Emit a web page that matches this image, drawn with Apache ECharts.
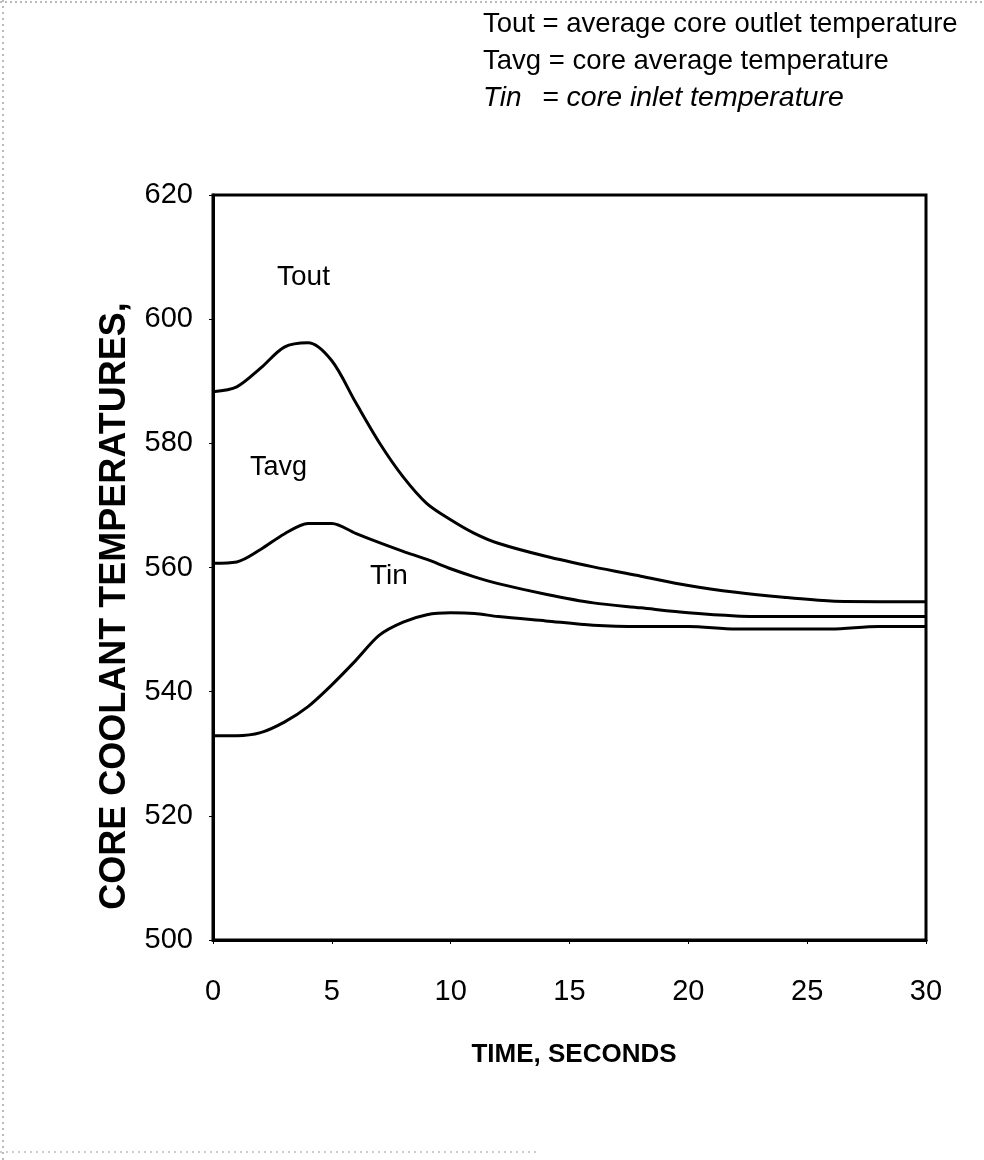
<!DOCTYPE html>
<html lang="en">
<head>
    <meta charset="UTF-8">
    <title>Core coolant temperatures</title>
    <script src="https://cdn.jsdelivr.net/npm/echarts@6/dist/echarts.min.js"></script>
    <style>
        html, body { margin: 0; padding: 0; background: #fff; }
        #graph { width: 984px; height: 1160px; }
    </style>
</head>
<body>
    <div id="graph"></div>

    <script>
        // time points, seconds
        var time = [0, 1, 2, 3, 4, 5, 6, 7, 8, 9, 10, 11, 12, 14, 16, 18, 20, 22, 24, 26, 28, 30];
        // core outlet / average / inlet temperatures
        var tout = [588.3, 589.1, 592.1, 595.5, 596.2, 593.3, 586.6, 580.1, 574.6, 570.3, 567.7, 565.5, 563.9, 561.8, 560.1, 558.6, 557.1, 556.0, 555.2, 554.6, 554.5, 554.5];
        var tavg = [560.7, 560.9, 562.9, 565.4, 567.1, 567.1, 565.5, 564.0, 562.6, 561.3, 559.8, 558.5, 557.4, 555.7, 554.3, 553.5, 552.7, 552.2, 552.1, 552.1, 552.1, 552.1];
        var tin  = [532.9, 532.9, 533.4, 535.1, 537.6, 541.1, 545.0, 549.1, 551.2, 552.4, 552.7, 552.6, 552.1, 551.4, 550.7, 550.5, 550.5, 550.1, 550.1, 550.1, 550.5, 550.5];

        var names = ['Tout', 'Tavg', 'Tin'];
        var legendLines = [
            'Tout = average core outlet temperature',
            'Tavg = core average temperature'
        ];
        var xTitle = 'TIME, SECONDS';
        var yTitle = 'CORE COOLANT TEMPERATURES,';

        var sans = "'Liberation Sans', Arial, sans-serif";

        function pairs(vals) {
            var out = [];
            for (var i = 0; i < time.length; i++) out.push([time[i], vals[i]]);
            return out;
        }

        function lineSeries(name, vals) {
            return {
                name: name,
                type: 'line',
                data: pairs(vals),
                showSymbol: false,
                smooth: 0.3,
                lineStyle: { color: '#000', width: 3 },
                silent: true
            };
        }

        function txt(x, y, s, opts) {
            var style = {
                x: x, y: y, text: s,
                fill: '#000',
                font: (opts.style || 'normal') + ' ' + (opts.weight || 'normal') + ' ' + opts.size + 'px ' + sans,
                textAlign: opts.align || 'left',
                textVerticalAlign: 'middle'
            };
            return { type: 'text', rotation: opts.rotation || 0, x: opts.ox || 0, y: opts.oy || 0, style: style, z: 10 };
        }

        var myChart = echarts.init(document.getElementById('graph'));

        var option = {
            backgroundColor: '#fff',
            animation: false,
            grid: {
                left: 213, right: 58, top: 195, bottom: 220,
                show: true, borderColor: '#000', borderWidth: 3,
                backgroundColor: 'transparent'
            },
            xAxis: {
                type: 'value',
                min: 0, max: 30, interval: 5,
                axisLine: { show: true, lineStyle: { color: '#000', width: 3 } },
                axisTick: { show: true, inside: false, length: 4, lineStyle: { color: '#000', width: 1 } },
                axisLabel: { color: '#000', fontSize: 29, fontFamily: sans, margin: 37 },
                splitLine: { show: false }
            },
            yAxis: {
                type: 'value',
                min: 500, max: 620, interval: 20,
                axisLine: { show: true, lineStyle: { color: '#000', width: 3 } },
                axisTick: { show: true, inside: false, length: 4, lineStyle: { color: '#000', width: 1 } },
                axisLabel: { color: '#000', fontSize: 29, fontFamily: sans, margin: 20 },
                splitLine: { show: false }
            },
            series: [
                lineSeries(names[0], tout),
                lineSeries(names[1], tavg),
                lineSeries(names[2], tin)
            ],
            graphic: [
                // scan border remnants
                { type: 'line', shape: { x1: 0, y1: 2, x2: 984, y2: 2 }, style: { stroke: '#777', lineWidth: 1, lineDash: [2, 3] } },
                { type: 'line', shape: { x1: 3, y1: 0, x2: 3, y2: 1160 }, style: { stroke: '#777', lineWidth: 1, lineDash: [2, 4] } },
                { type: 'line', shape: { x1: 0, y1: 1152, x2: 540, y2: 1152 }, style: { stroke: '#999', lineWidth: 1, lineDash: [2, 4] } },

                txt(483, 24, legendLines[0], { size: 27.5 }),
                txt(483, 61, legendLines[1], { size: 27.5 }),
                txt(483, 98, 'Tin', { size: 28, style: 'italic' }),
                txt(542, 98, '= core inlet temperature', { size: 28.5, style: 'italic' }),

                txt(277, 277, names[0], { size: 28 }),
                txt(250, 468, names[1], { size: 27 }),
                txt(370, 576, names[2], { size: 28 }),

                txt(574, 1055, xTitle, { size: 26, weight: 'bold', align: 'center' }),
                txt(0, 0, yTitle, { size: 36, weight: 'bold', align: 'center', rotation: Math.PI / 2, ox: 115, oy: 606 })
            ]
        };
        myChart.setOption(option);
    </script>
</body>
</html>
